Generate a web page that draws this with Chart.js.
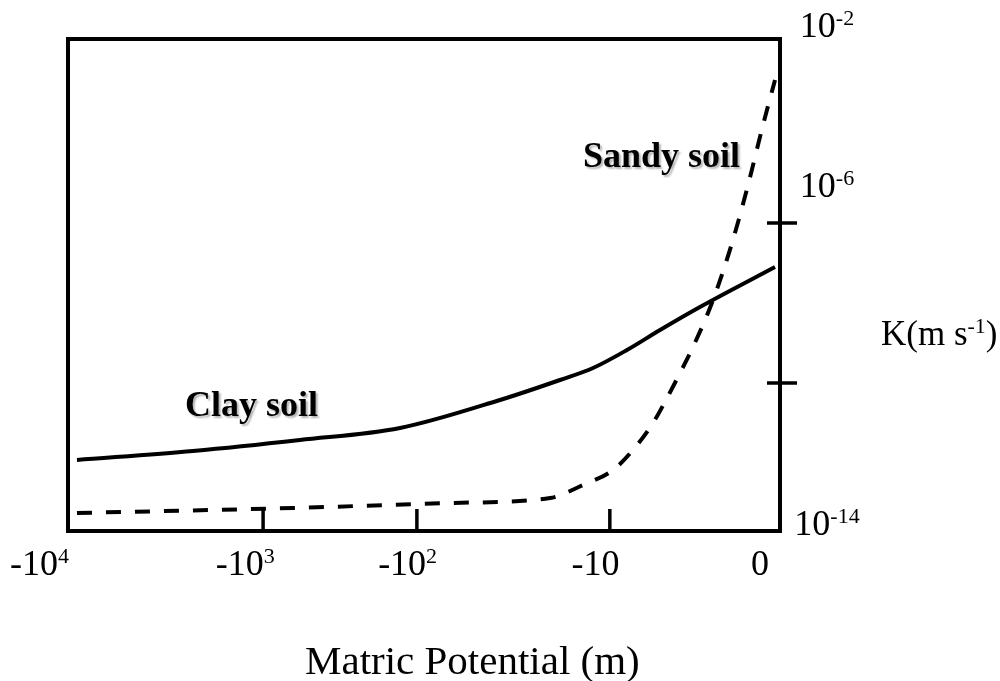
<!DOCTYPE html>
<html>
<head>
<meta charset="utf-8">
<title>Hydraulic conductivity vs matric potential</title>
<script src="https://cdn.jsdelivr.net/npm/chart.js@4.4.1/dist/chart.umd.min.js"></script>
<style>
    body { margin: 0; background: #fff; }
    #chart-box { width: 1000px; height: 681px; }
</style>
</head>
<body>
<div id="chart-box"><canvas id="k-chart" width="1000" height="681"></canvas></div>
<script>
// x = position along the (schematic) potential axis, 0..100 across the box
// y = log10 of K (m s-1)
const clayX = [1.26, 17.56, 32.58, 46.63, 60.67, 69.10, 73.74, 78.51, 83.15, 88.76, 99.30];
const clayY = [-11.925, -11.7, -11.425, -11.125, -10.425, -9.925, -9.625, -9.175, -8.675, -8.1, -7.1];

const sandyX = [1.26, 31.60, 53.65, 67.70, 72.33, 76.54, 79.35, 82.16, 84.13, 85.96, 87.78, 90.59, 93.26, 95.51, 97.61, 99.30];
const sandyY = [-13.25, -13.125, -13.0, -12.875, -12.55, -12.175, -11.675, -11.0, -10.375, -9.75, -9.1, -7.925, -6.5, -5.05, -3.55, -2.425];

// potential axis: tick marks and label centres
const xTickVals = [27.4, 49.0, 76.1];
const xLabelPos = [-4.0, 24.9, 47.7, 74.1, 97.2];
const xLabels = [['-10', '4'], ['-10', '3'], ['-10', '2'], ['-10', ''], ['0', '']];

// conductivity axis
const yTickVals = [-6, -10];
const yLabelPos = [-1.05, -5.05, -13.5];
const yLabels = [['10', '-2'], ['10', '-6'], ['10', '-14']];

const SERIF = "'Liberation Serif', 'Times New Roman', serif";

function toPoints(xs, ys) {
    return xs.map((x, i) => ({ x: x, y: ys[i] }));
}

// draws "base" + superscript, centred on x
function drawSup(ctx, base, sup, x, y, size) {
    const supSize = Math.round(size * 0.62);
    ctx.font = size + 'px ' + SERIF;
    const wb = ctx.measureText(base).width;
    ctx.font = supSize + 'px ' + SERIF;
    const ws = sup ? ctx.measureText(sup).width : 0;
    let left = x - (wb + ws) / 2;
    ctx.textAlign = 'left';
    ctx.textBaseline = 'alphabetic';
    ctx.font = size + 'px ' + SERIF;
    ctx.fillText(base, left, y);
    if (sup) {
        ctx.font = supSize + 'px ' + SERIF;
        ctx.fillText(sup, left + wb, y - size * 0.33);
    }
}

const framePlugin = {
    id: 'frame',
    afterDatasetsDraw(chart) {
        const ctx = chart.ctx;
        const a = chart.chartArea;
        const xs = chart.scales.x;
        const ys = chart.scales.y;
        ctx.save();
        ctx.strokeStyle = '#000';
        ctx.fillStyle = '#000';

        // box
        ctx.lineWidth = 4;
        ctx.strokeRect(a.left, a.top, a.right - a.left, a.bottom - a.top);

        // bottom ticks point up into the box
        ctx.lineWidth = 3.5;
        xTickVals.forEach(v => {
            const px = xs.getPixelForValue(v);
            ctx.beginPath();
            ctx.moveTo(px, a.bottom);
            ctx.lineTo(px, a.bottom - 22);
            ctx.stroke();
        });

        // right ticks cross the axis
        yTickVals.forEach(v => {
            const py = ys.getPixelForValue(v);
            ctx.beginPath();
            ctx.moveTo(a.right - 13, py);
            ctx.lineTo(a.right + 17, py);
            ctx.stroke();
        });

        // tick labels
        xLabels.forEach((lab, i) => {
            drawSup(ctx, lab[0], lab[1], xs.getPixelForValue(xLabelPos[i]), a.bottom + 44, 36);
        });
        yLabels.forEach((lab, i) => {
            drawSup(ctx, lab[0], lab[1], a.right + 47, ys.getPixelForValue(yLabelPos[i]) + 12, 36);
        });

        // axis titles
        ctx.font = '35px ' + SERIF;
        ctx.textAlign = 'left';
        const k1 = 'K(m s';
        const wk = ctx.measureText(k1).width;
        const kx = 881, ky = 345;
        ctx.fillText(k1, kx, ky);
        ctx.font = '22px ' + SERIF;
        ctx.fillText('-1', kx + wk, ky - 12);
        const w1 = ctx.measureText('-1').width;
        ctx.font = '35px ' + SERIF;
        ctx.fillText(')', kx + wk + w1, ky);

        ctx.font = '41px ' + SERIF;
        ctx.textAlign = 'left';
        ctx.fillText('Matric Potential (m)', 305, 674);

        // curve names with a soft shadow
        ctx.font = 'bold 36px ' + SERIF;
        ctx.shadowColor = 'rgba(0,0,0,0.3)';
        ctx.shadowOffsetX = 2;
        ctx.shadowOffsetY = 2;
        ctx.shadowBlur = 2;
        ctx.fillText('Sandy soil', 583, 167);
        ctx.fillText('Clay soil', 185, 416);
        ctx.restore();
    }
};

document.addEventListener('DOMContentLoaded', function() {
    const ctx = document.getElementById('k-chart').getContext('2d');
    new Chart(ctx, {
        type: 'line',
        data: {
            datasets: [{
                label: 'Clay soil',
                data: toPoints(clayX, clayY),
                borderColor: '#000',
                borderWidth: 4,
                pointRadius: 0,
                cubicInterpolationMode: 'monotone',
                fill: false
            }, {
                label: 'Sandy soil',
                data: toPoints(sandyX, sandyY),
                borderColor: '#000',
                borderWidth: 4,
                borderDash: [15, 14],
                pointRadius: 0,
                cubicInterpolationMode: 'monotone',
                fill: false
            }]
        },
        options: {
            responsive: false,
            animation: false,
            devicePixelRatio: 1,
            layout: { padding: { left: 68, top: 39, right: 220, bottom: 150 } },
            scales: {
                x: { type: 'linear', min: 0, max: 100, display: false },
                y: { type: 'linear', min: -13.7, max: -1.4, display: false }
            },
            plugins: {
                legend: { display: false },
                tooltip: { enabled: false }
            }
        },
        plugins: [framePlugin]
    });
});
</script>
</body>
</html>
